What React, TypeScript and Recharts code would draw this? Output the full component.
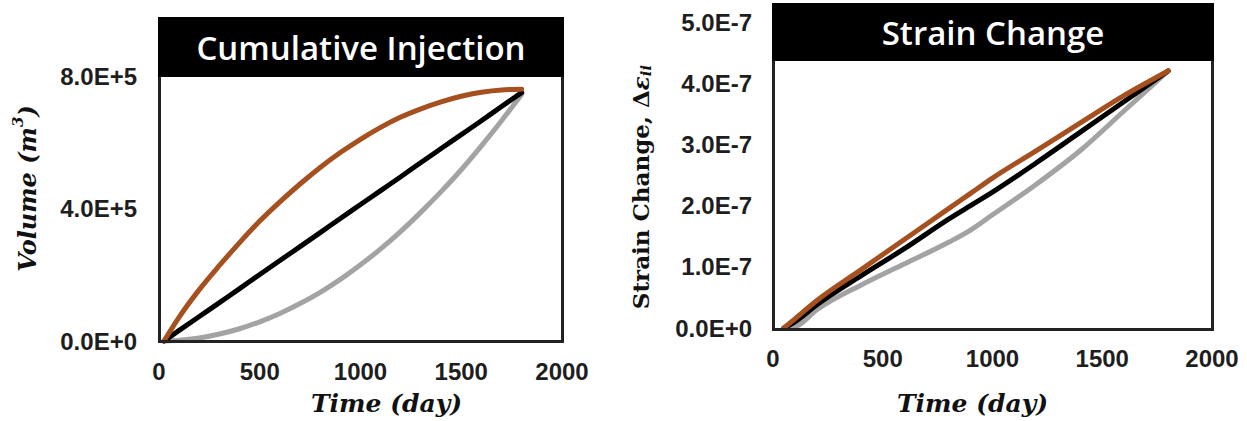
import React from "react";
import { LineChart, Line, XAxis, YAxis, Label } from "recharts";

// ---------- Data ----------
const injTime = [25, 100, 200, 300, 400, 500, 600, 700, 800, 900, 1000, 1100, 1200, 1300, 1400, 1500, 1600, 1700, 1800];
const injBrown = [0, 0.72e5, 1.55e5, 2.28e5, 2.97e5, 3.62e5, 4.2e5, 4.74e5, 5.24e5, 5.69e5, 6.09e5, 6.45e5, 6.76e5, 7.01e5, 7.22e5, 7.39e5, 7.51e5, 7.58e5, 7.6e5];
const injBlack = [0, 0.32e5, 0.74e5, 1.16e5, 1.58e5, 2.01e5, 2.43e5, 2.85e5, 3.27e5, 3.7e5, 4.12e5, 4.54e5, 4.96e5, 5.39e5, 5.81e5, 6.23e5, 6.65e5, 7.08e5, 7.5e5];
const injGray = [0, 0.02e5, 0.09e5, 0.21e5, 0.37e5, 0.58e5, 0.83e5, 1.13e5, 1.47e5, 1.86e5, 2.3e5, 2.78e5, 3.31e5, 3.89e5, 4.51e5, 5.17e5, 5.89e5, 6.65e5, 7.45e5];

const strTime = [50, 100, 200, 400, 600, 800, 900, 1000, 1200, 1400, 1600, 1800];
const strBrown = [0, 0.15e-7, 0.45e-7, 0.95e-7, 1.45e-7, 1.95e-7, 2.2e-7, 2.45e-7, 2.9e-7, 3.35e-7, 3.8e-7, 4.2e-7];
const strBlack = [0, 0.1e-7, 0.38e-7, 0.85e-7, 1.3e-7, 1.78e-7, 2.0e-7, 2.22e-7, 2.7e-7, 3.2e-7, 3.7e-7, 4.2e-7];
const strGray = [0, 0.02e-7, 0.3e-7, 0.7e-7, 1.05e-7, 1.4e-7, 1.6e-7, 1.85e-7, 2.35e-7, 2.9e-7, 3.55e-7, 4.2e-7];

const timeTicks = [0, 500, 1000, 1500, 2000];
const injTicks = [0, 4e5, 8e5];
const strTicks = [0, 1e-7, 2e-7, 3e-7, 4e-7, 5e-7];

const injRows = injTime.map((t, i) => ({ t, brown: injBrown[i], black: injBlack[i], gray: injGray[i] }));
const strRows = strTime.map((t, i) => ({ t, brown: strBrown[i], black: strBlack[i], gray: strGray[i] }));

// ---------- Styles ----------
const BROWN = "#a5501e";
const BLACK = "#000000";
const GRAY = "#a3a3a3";
const tickStyle = { fill: "#1e1e1e", fontFamily: "'Liberation Sans', Arial, sans-serif", fontWeight: 700, fontSize: 24 };
const serif = "'DejaVu Serif', serif";
const fmt = (v: number) => v.toExponential(1).toUpperCase();

const xTitle = (dx: number, dy: number) => (props: any) => {
  const vb = props.viewBox || {};
  const x = vb.x + vb.width / 2 + dx;
  const y = vb.y + dy;
  return (
    <text x={x} y={y} textAnchor="middle" fontFamily={serif} fontWeight={700} fontStyle="italic" fontSize={25} fill="#111">
      Time (day)
    </text>
  );
};

const volTitle = (props: any) => {
  const vb = props.viewBox || {};
  const cx = 27;
  const cy = vb.y + vb.height / 2 - 20;
  return (
    <text x={cx} y={cy} transform={`rotate(-90, ${cx}, ${cy})`} textAnchor="middle" dominantBaseline="central" fontFamily={serif} fontWeight={700} fontStyle="italic" fontSize={24} fill="#111">
      <tspan>Volume (m</tspan>
      <tspan dy={-9} fontSize={15}>3</tspan>
      <tspan dy={9}>)</tspan>
    </text>
  );
};

const strainTitle = (props: any) => {
  const vb = props.viewBox || {};
  const cx = 40;
  const cy = vb.y + vb.height / 2 + 12;
  return (
    <text x={cx} y={cy} transform={`rotate(-90, ${cx}, ${cy})`} textAnchor="middle" dominantBaseline="central" fontFamily={serif} fontWeight={700} fontSize={23} fill="#111">
      <tspan>Strain Change, Δ</tspan>
      <tspan fontStyle="italic">ε</tspan>
      <tspan dy={6} fontSize={15} fontStyle="italic">ii</tspan>
    </text>
  );
};

const lines = [
  { key: "gray", color: GRAY },
  { key: "black", color: BLACK },
  { key: "brown", color: BROWN },
];

const titleStyle: React.CSSProperties = {
  position: "absolute",
  background: "#000",
  color: "#fff",
  fontFamily: "'Open Sans', sans-serif",
  fontWeight: 600,
  fontSize: 33,
  display: "flex",
  alignItems: "center",
  justifyContent: "center",
  boxSizing: "border-box",
};
const frameStyle: React.CSSProperties = {
  position: "absolute",
  border: "3px solid #222",
  boxSizing: "border-box",
  pointerEvents: "none",
};

export default function App() {
  return (
    <div style={{ position: "absolute", left: 0, top: 0, width: 1247, height: 421, background: "#fff", overflow: "hidden" }}>
      <div style={{ position: "absolute", left: 0, top: 0 }}>
        <LineChart width={600} height={421} data={injRows} margin={{ top: 76, right: 38, bottom: 0, left: 0 }}>
          <XAxis dataKey="t" type="number" domain={[0, 2000]} ticks={timeTicks} interval={0} axisLine={false} tickLine={false} tickSize={0} tickMargin={22} height={80} tick={tickStyle}>
            <Label content={xTitle(26, 71)} />
          </XAxis>
          <YAxis type="number" domain={[0, 8e5]} ticks={injTicks} interval={0} axisLine={false} tickLine={false} tickSize={0} tickMargin={22} width={159} tick={tickStyle} tickFormatter={fmt}>
            <Label content={volTitle} />
          </YAxis>
          {lines.map((l) => (
            <Line key={l.key} dataKey={l.key} type="monotone" stroke={l.color} strokeWidth={5} strokeLinecap="round" dot={false} activeDot={false} isAnimationActive={false} />
          ))}
        </LineChart>
      </div>
      <div style={{ ...frameStyle, left: 158, top: 17, width: 406, height: 326 }} />
      <div style={{ ...titleStyle, left: 158, top: 17, width: 406, height: 60 }}>Cumulative Injection</div>

      <div style={{ position: "absolute", left: 600, top: 0 }}>
        <LineChart width={647} height={421} data={strRows} margin={{ top: 22, right: 35, bottom: 0, left: 0 }}>
          <XAxis dataKey="t" type="number" domain={[0, 2000]} ticks={timeTicks} interval={0} axisLine={false} tickLine={false} tickSize={0} tickMargin={22} height={93} tick={tickStyle}>
            <Label content={xTitle(-20, 84)} />
          </XAxis>
          <YAxis type="number" domain={[0, 5e-7]} ticks={strTicks} interval={0} axisLine={false} tickLine={false} tickSize={0} tickMargin={21} width={173} tick={tickStyle} tickFormatter={fmt}>
            <Label content={strainTitle} />
          </YAxis>
          {lines.map((l) => (
            <Line key={l.key} dataKey={l.key} type="monotone" stroke={l.color} strokeWidth={5} strokeLinecap="round" dot={false} activeDot={false} isAnimationActive={false} />
          ))}
        </LineChart>
      </div>
      <div style={{ ...frameStyle, left: 772, top: 3, width: 442, height: 328 }} />
      <div style={{ ...titleStyle, left: 772, top: 3, width: 442, height: 58 }}>Strain Change</div>
    </div>
  );
}
